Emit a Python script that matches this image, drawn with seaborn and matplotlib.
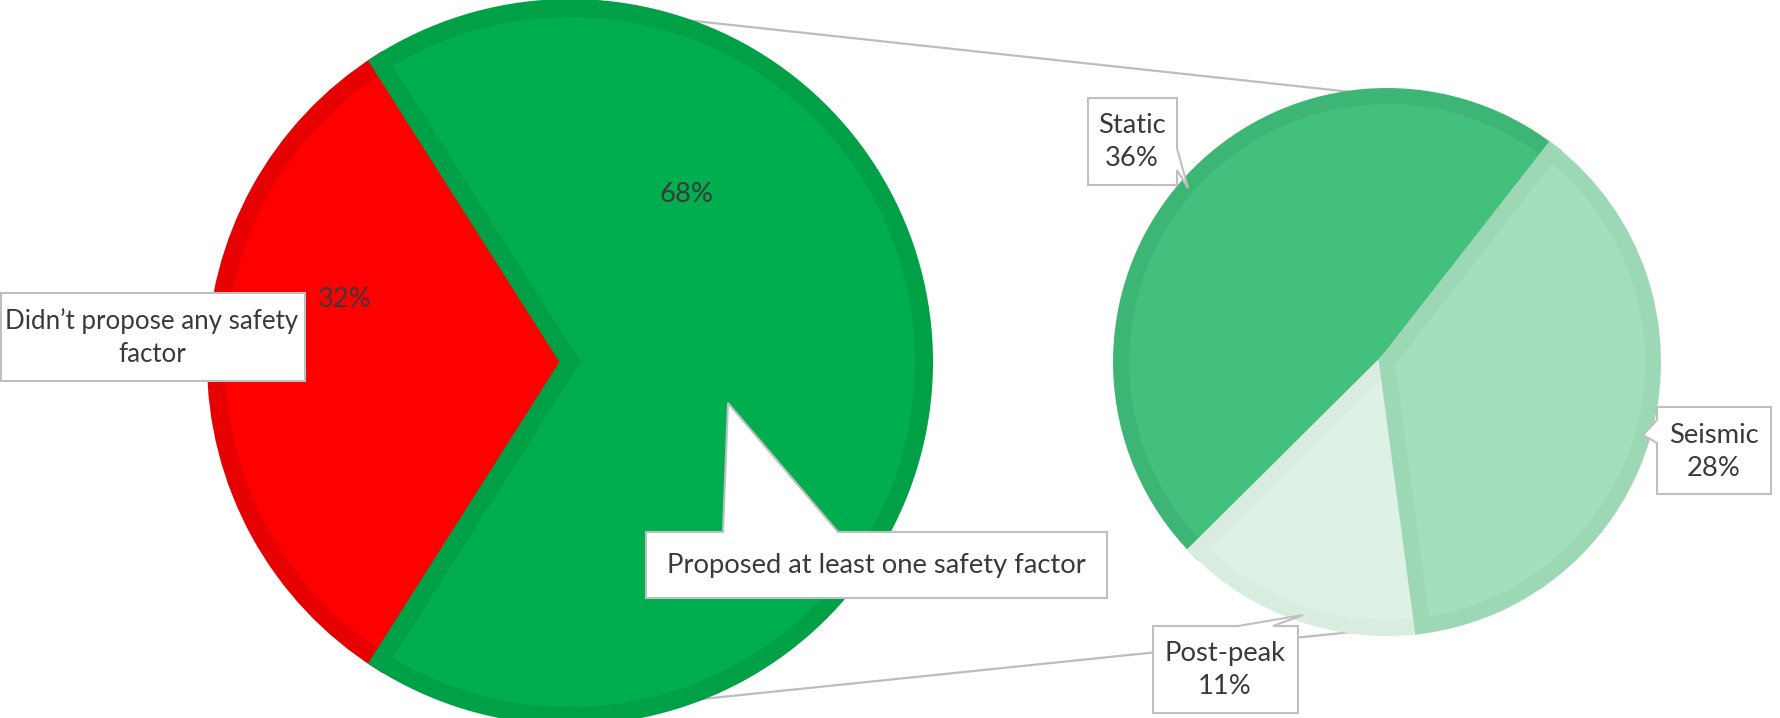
import numpy as np
import matplotlib
matplotlib.use("Agg")
import matplotlib.pyplot as plt
from matplotlib.patches import Polygon
import seaborn as sns

# ---- data -------------------------------------------------------------
main_labels = ["Didn\u2019t propose any safety\nfactor", "Proposed at least one safety factor"]
main_values = [32, 68]
main_colors = ["#FF0000", "#00AE50"]
main_edges = ["#E60000", "#00A046"]

# breakdown of the "proposed" share, listed counter-clockwise
sub_labels = ["Static", "Post-peak", "Seismic"]
sub_values = [36, 11, 28]
sub_colors = ["#42C07C", "#DEF1E5", "#A2DFBC"]
sub_edges = ["#3DB574", "#D8EDE0", "#9DD8B6"]

# ---- figure -----------------------------------------------------------
sns.set_theme(style="white")
plt.rcParams["font.family"] = ["Lato", "DejaVu Sans"]
TXT = "#3A3A3A"
W, H = 1781, 718

fig = plt.figure(figsize=(W / 100, H / 100), dpi=100)
ax = fig.add_axes([0, 0, 1, 1])


def Y(y):
    """pixel row (top-down) -> axis y (bottom-up)"""
    return H - y


main_c = (570, Y(362))
main_r = 354
sub_c = (1387, Y(362))
sub_r = 266

# connector lines between the two pies (drawn underneath)
def on_circle(c, r, deg):
    a = np.deg2rad(deg)
    return c[0] + r * np.cos(a), c[1] + r * np.sin(a)

for a_main, a_sub in [(80.5, 87.0), (267.0, 276.3)]:
    p0 = on_circle(main_c, main_r - 1, a_main)
    p1 = on_circle(sub_c, sub_r - 1, a_sub)
    ax.plot([p0[0], p1[0]], [p0[1], p1[1]], color="#BDBDBD", lw=1.6,
            zorder=1, solid_capstyle="butt")

# primary pie: red share centred on the left
start_main = 180 - main_values[0] / sum(main_values) * 360 / 2
wedges, _ = ax.pie(main_values, colors=main_colors, startangle=start_main,
                   counterclock=True, center=main_c, radius=main_r,
                   wedgeprops=dict(linewidth=13, zorder=2))
for w, ec in zip(wedges, main_edges):
    w.set_edgecolor(ec)
    w.set_clip_path(w)
    w.set_zorder(2)

# secondary pie
wedges2, _ = ax.pie(sub_values, colors=sub_colors, startangle=52,
                    counterclock=True, center=sub_c, radius=sub_r,
                    wedgeprops=dict(linewidth=11.5, zorder=2))
for w, ec in zip(wedges2, sub_edges):
    w.set_edgecolor(ec)
    w.set_clip_path(w)
    w.set_zorder(2)

ax.set_xlim(0, W)
ax.set_ylim(0, H)
ax.set_aspect("equal")
ax.axis("off")


# ---- callout boxes ----------------------------------------------------
def callout(pts):
    poly = Polygon([(x, Y(y)) for x, y in pts], closed=True,
                   facecolor="white", edgecolor="#BFBFBF", lw=1.5, zorder=4,
                   joinstyle="miter")
    ax.add_patch(poly)


FS = 19.7

# left label box (no pointer)
callout([(1, 293), (305, 293), (305, 381), (1, 381)])
ax.text(152, Y(338), main_labels[0], ha="center", va="center", fontsize=18.6,
        color=TXT, zorder=5, linespacing=1.4)

# bottom label with pointer reaching into the green slice
callout([(646, 532), (723, 532), (728, 403), (838, 532), (1107, 532),
         (1107, 598), (646, 598)])
ax.text(876, Y(565), main_labels[1], ha="center", va="center", fontsize=FS,
        color=TXT, zorder=5)

# percentage labels inside the primary pie
ax.text(345, Y(300), f"{main_values[0]}%", ha="center", va="center",
        fontsize=FS, color=TXT, zorder=3)
ax.text(687, Y(195), f"{main_values[1]}%", ha="center", va="center",
        fontsize=FS, color=TXT, zorder=3)

# secondary labels
sub_boxes = {
    "Static": ([(1088, 98), (1177, 98), (1177, 148), (1188, 188), (1177, 170),
                (1177, 185), (1088, 185)], (1132, 142)),
    "Seismic": ([(1657, 407), (1771, 407), (1771, 494), (1657, 494),
                 (1657, 443), (1643, 435), (1657, 420)], (1714, 452)),
    "Post-peak": ([(1153, 626), (1238, 626), (1303, 615), (1273, 626),
                   (1298, 626), (1298, 713), (1153, 713)], (1225, 670)),
}
for lab, val in zip(sub_labels, sub_values):
    pts, (tx, ty) = sub_boxes[lab]
    callout(pts)
    ax.text(tx, Y(ty), f"{lab}\n{val}%", ha="center", va="center",
            fontsize=FS, color=TXT, zorder=5, linespacing=1.4)

fig.savefig("out.png", dpi=100, facecolor="white")
